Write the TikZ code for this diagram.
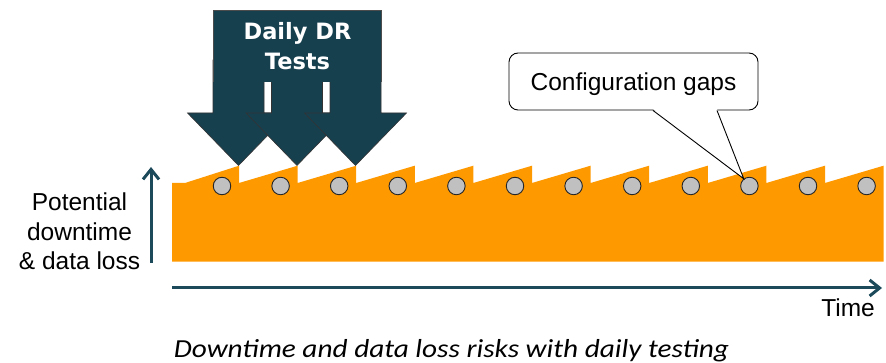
\documentclass[tikz,border=0pt]{standalone}
\usepackage{fontspec}
\setmainfont{Liberation Sans}
\newfontfamily\drfont{DejaVu Sans}
\newfontfamily\capfont{Carlito}
\usetikzlibrary{arrows.meta}
\definecolor{drblue}{HTML}{17404F}
\definecolor{axisblue}{HTML}{1C4A5A}
\definecolor{orng}{HTML}{FF9900}
\definecolor{gapgray}{HTML}{C0C0C0}
\begin{document}
\begin{tikzpicture}[x=1pt,y=-1pt,
  axis/.style={draw=axisblue,line width=3pt,-{Straight Barb[length=10pt,width=16pt]}},
  gapc/.style={circle,minimum size=17.5pt,inner sep=0pt,fill=gapgray,draw=black!85,line width=0.9pt},
  drarrow/.style={fill=drblue,draw=black!80,line width=0.6pt,line join=miter},
  lbl/.style={font=\fontsize{24.5}{29.5}\selectfont,text=black,inner sep=0pt}]
\useasboundingbox[fill=white] (0,0) rectangle (886,363);

% orange risk band
\fill[orng] (172,261.7) -- (172,183) -- (185,183) -- (239,165.7)
  foreach \i in {1,...,11} { -- ++(0,17.3) -- ++(58.6,-17.3) }
  -- (883.6,261.7) -- cycle;

% configuration gaps (circles)
\foreach \i in {1,...,12}
  \node[gapc] (c\i) at ({222+58.6*(\i-1)},186) {};

% daily DR test arrows
\foreach \c in {238.5,297,355.5}
  \path[drarrow] (\c-25.5,60) -- (\c-25.5,113) -- (\c-51,113) -- (\c,165.5)
     -- (\c+51,113) -- (\c+25.5,113) -- (\c+25.5,60) -- cycle;
\fill[drblue] (213,10) rectangle (381,82);
\draw[black!70,line width=0.6pt] (213,82) -- (213,10) -- (381,10) -- (381,82);
\node[font=\drfont\bfseries\fontsize{22.5}{30.7}\selectfont,text=white,align=center,inner sep=0pt]
  (dr) at (297.5,46) {Daily DR\\Tests};

% callout
\node[draw=black,line width=0.9pt,rounded corners=9pt,fill=white,minimum width=249pt,
  minimum height=57pt,text depth=0pt,inner sep=0pt,font=\fontsize{24.5}{29}\selectfont]
  (cfg) at (633.5,81.5) {Configuration gaps};
\fill[white] ([xshift=19.5pt,yshift=1.5pt]cfg.south) -- (c10.128) -- ([xshift=83.5pt,yshift=1.5pt]cfg.south) -- cycle;
\draw[line width=0.9pt,line join=miter] ([xshift=19.5pt]cfg.south) -- (c10.128) -- ([xshift=83.5pt]cfg.south);

% axes
\coordinate (yb) at (151,263);
\coordinate (yt) at (151,167);
\coordinate (xl) at (172,288);
\coordinate (xr) at (882,288);
\draw[axis] (yb) -- (yt);
\draw[axis] (xl) -- (xr);

% labels
\node[lbl,align=center] (ylab) at (79.5,231.5) {Potential\\downtime\\\& data loss};
\node[lbl,anchor=base east] (xlab) at (875,316.7) {Time};
\node[font=\capfont\itshape\fontsize{26}{30}\selectfont,inner sep=0pt,anchor=base] (cap) at (451.5,357.3)
  {\scalebox{1.126}[1]{Downtime and data loss risks with daily testing}};
\end{tikzpicture}
\end{document}
